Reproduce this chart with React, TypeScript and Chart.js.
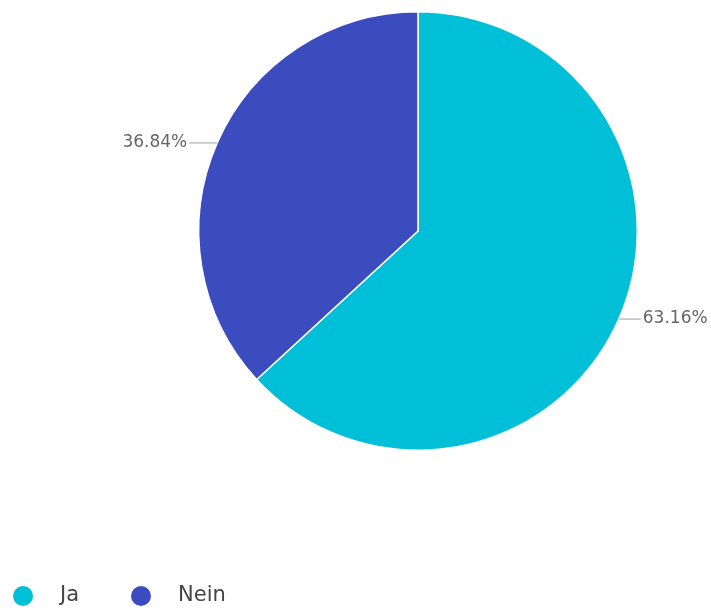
import React, { useEffect, useRef } from "react";
import { Chart, registerables } from "chart.js";

Chart.register(...registerables);

const categories = ["Ja", "Nein"];
const values = [12, 7];
const percentLabels = ["63.16%", "36.84%"];
const colors = ["#00BFD6", "#3B4CBF"];

const labelPlugin = {
  id: "pieLabels",
  afterDatasetsDraw(chart: any) {
    const ctx = chart.ctx;
    const meta = chart.getDatasetMeta(0);
    ctx.save();
    ctx.font = "17px 'DejaVu Sans'";
    ctx.textBaseline = "middle";
    meta.data.forEach((arc: any, i: number) => {
      const { x, y, startAngle, endAngle, outerRadius } = arc.getProps(
        ["x", "y", "startAngle", "endAngle", "outerRadius"],
        true
      );
      const mid = (startAngle + endAngle) / 2;
      const px = x + Math.cos(mid) * outerRadius;
      const py = y + Math.sin(mid) * outerRadius;
      const left = Math.cos(mid) < 0;
      ctx.strokeStyle = "#9e9e9e";
      ctx.lineWidth = 1;
      ctx.beginPath();
      ctx.moveTo(px, py);
      ctx.lineTo(left ? px - 28 : px + 22, py);
      ctx.stroke();
      ctx.fillStyle = "#666666";
      ctx.textAlign = left ? "right" : "left";
      ctx.fillText(percentLabels[i], left ? px - 30 : px + 24, py);
    });
    // legend
    ctx.font = "21px 'DejaVu Sans'";
    ctx.textAlign = "left";
    ctx.textBaseline = "middle";
    const legendY = 596;
    const itemX = [23, 141];
    categories.forEach((c, i) => {
      ctx.fillStyle = colors[i];
      ctx.beginPath();
      ctx.arc(itemX[i], legendY, 10, 0, Math.PI * 2);
      ctx.fill();
      ctx.fillStyle = "#444444";
      ctx.fillText(c, itemX[i] + 37, legendY);
    });
    ctx.restore();
  },
};

export default function App() {
  const ref = useRef<HTMLCanvasElement | null>(null);
  useEffect(() => {
    if (!ref.current) return;
    const chart = new Chart(ref.current, {
      type: "pie",
      data: {
        labels: categories,
        datasets: [
          {
            data: values,
            backgroundColor: colors,
            borderColor: "#ffffff",
            borderWidth: 1.5,
          },
        ],
      },
      options: {
        responsive: false,
        animation: false,
        layout: { padding: { left: 198, right: 73, top: 11, bottom: 159 } },
        plugins: {
          legend: { display: false },
          tooltip: { enabled: false },
        },
      },
      plugins: [labelPlugin],
    });
    return () => chart.destroy();
  }, []);
  return (
    <div style={{ position: "absolute", left: 0, top: 0, width: 711, height: 610, background: "#fff" }}>
      <canvas ref={ref} width={711} height={610} style={{ display: "block" }} />
    </div>
  );
}
